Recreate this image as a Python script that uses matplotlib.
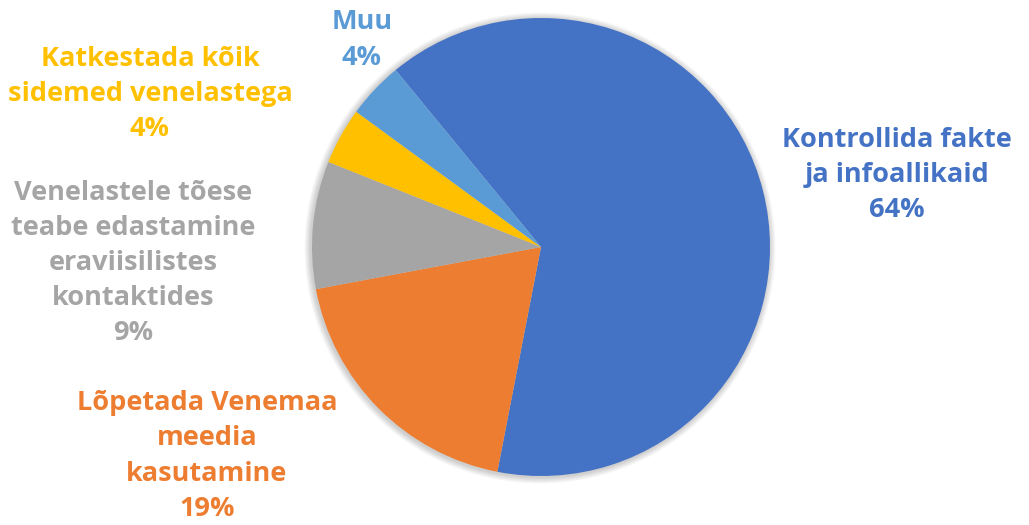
import matplotlib.pyplot as plt
from matplotlib.patches import Circle

# Answer shares (%), clockwise from the top
labels = [
    "Kontrollida fakte\nja infoallikaid",
    "Lõpetada Venemaa\nmeedia\nkasutamine",
    "Venelastele tõese\nteabe edastamine\neraviisilistes\nkontaktides",
    "Katkestada kõik\nsidemed venelastega",
    "Muu",
]
values = [64, 19, 9, 4, 4]
colors = ["#4472C4", "#ED7D31", "#A5A5A5", "#FFC000", "#5B9BD5"]

# label centres in pixel space (y measured from top)
label_pos = [(897, 175), (207, 456), (133, 263), (150, 94), (362, 40)]

W, H = 1029, 525
fig = plt.figure(figsize=(W / 100, H / 100), dpi=100)
ax = fig.add_axes([0, 0, 1, 1])
ax.set_xlim(0, W)
ax.set_ylim(0, H)
ax.set_aspect("equal")
ax.axis("off")

cx, cy, r = 541, H - 247, 229

# soft drop shadow around the disc
for i in range(8):
    ax.add_patch(Circle((cx - 1, cy - 1), r + 1 + i * 0.8, color="#000000",
                        alpha=0.025, lw=0, zorder=0))

ax.pie(values, colors=colors, startangle=129.4, counterclock=False,
       center=(cx, cy), radius=r, frame=True,
       wedgeprops=dict(linewidth=0))
ax.set_xlim(0, W)
ax.set_ylim(0, H)
ax.axis("off")

for lab, v, c, (x, y) in zip(labels, values, colors, label_pos):
    ax.text(x, H - y, f"{lab}\n{v}%", color=c, fontsize=19.5,
            fontweight="bold", family="Open Sans", ha="center",
            va="center", linespacing=1.46)

fig.savefig("out.png", dpi=100)
